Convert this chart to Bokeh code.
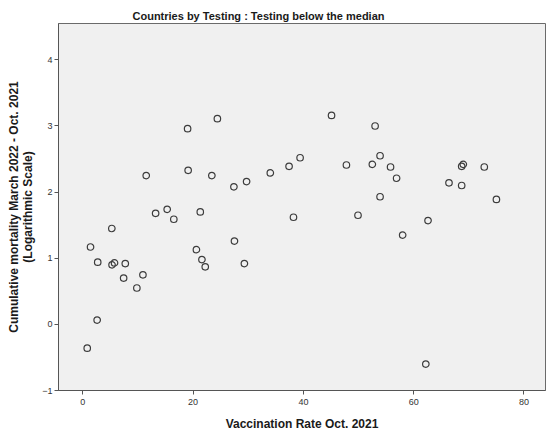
from bokeh.plotting import figure
from bokeh.models import FixedTicker, Range1d, ColumnDataSource
from bokeh.embed import file_html
from bokeh.resources import INLINE

# Data
vaccination_rate = [24.4, 19.0, 39.4, 37.4, 34.0, 11.5, 19.1, 23.4, 27.4, 29.7,
                    13.2, 15.3, 16.5, 21.3, 38.2, 5.26, 1.4, 20.6, 27.5, 2.7,
                    5.3, 5.75, 7.7, 7.4, 10.9, 9.8, 21.6, 22.2, 29.3, 2.6,
                    0.8, 45.1, 53.0, 47.8, 52.5, 53.9, 55.8, 56.9, 53.9, 49.9,
                    62.6, 58.0, 68.7, 69.0, 72.8, 66.4, 68.7, 75.0, 62.2]
log_mortality = [3.11, 2.96, 2.52, 2.39, 2.29, 2.25, 2.33, 2.25, 2.08, 2.16,
                 1.68, 1.74, 1.59, 1.70, 1.62, 1.45, 1.17, 1.13, 1.26, 0.94,
                 0.90, 0.93, 0.92, 0.70, 0.75, 0.55, 0.98, 0.87, 0.92, 0.065,
                 -0.36, 3.16, 3.00, 2.41, 2.42, 2.55, 2.38, 2.21, 1.93, 1.65,
                 1.57, 1.35, 2.39, 2.42, 2.38, 2.14, 2.10, 1.89, -0.60]
x_ticks = [0, 20, 40, 60, 80]
y_ticks = [-1, 0, 1, 2, 3, 4]

source = ColumnDataSource(data=dict(x=vaccination_rate, y=log_mortality))

FONT = "Liberation Sans"

p = figure(width=547, height=434, output_backend="svg", toolbar_location=None,
           x_range=Range1d(-4.41, 83.9), y_range=Range1d(-1, 4.55),
           title="Countries by Testing : Testing below the median",
           min_border_left=58, min_border_right=2, min_border_top=23,
           min_border_bottom=44)

p.title.text_font = FONT
p.title.text_font_size = "11px"
p.title.text_font_style = "bold"
p.title.text_color = "#1a1a1a"
p.title.align = "left"
p.title.offset = 74
p.title.standoff = 4

p.background_fill_color = "#f0f0f0"
p.border_fill_color = "white"
p.outline_line_color = "#6a6a6a"
p.outline_line_width = 1
p.grid.visible = False

p.scatter("x", "y", source=source, marker="circle", size=6.5,
          fill_color=None, line_color="#3c3c3c", line_width=1.2)

for ax in (p.xaxis[0], p.yaxis[0]):
    ax.axis_line_color = "#555555"
    ax.major_tick_line_color = "#555555"
    ax.minor_tick_line_color = None
    ax.major_tick_in = 0
    ax.major_tick_out = 4
    ax.major_label_text_font = FONT
    ax.major_label_text_font_size = "9px"
    ax.major_label_text_color = "#333333"
    ax.axis_label_text_font = FONT
    ax.axis_label_text_font_style = "bold"
    ax.axis_label_text_font_size = "12px"
    ax.axis_label_text_color = "#1a1a1a"
    ax.axis_label_text_line_height = 1.0

p.xaxis.ticker = FixedTicker(ticks=x_ticks)
p.yaxis.ticker = FixedTicker(ticks=y_ticks)
p.xaxis.major_label_standoff = 4
p.yaxis.major_label_standoff = 2
p.xaxis.axis_label = "Vaccination Rate Oct. 2021"
p.xaxis.axis_label_standoff = 9
p.yaxis.axis_label = "Cumulative mortality March 2022 - Oct. 2021\n(Logarithmic Scale)"
p.yaxis.axis_label_standoff = 4

open("out.html", "w").write(file_html(p, INLINE))
